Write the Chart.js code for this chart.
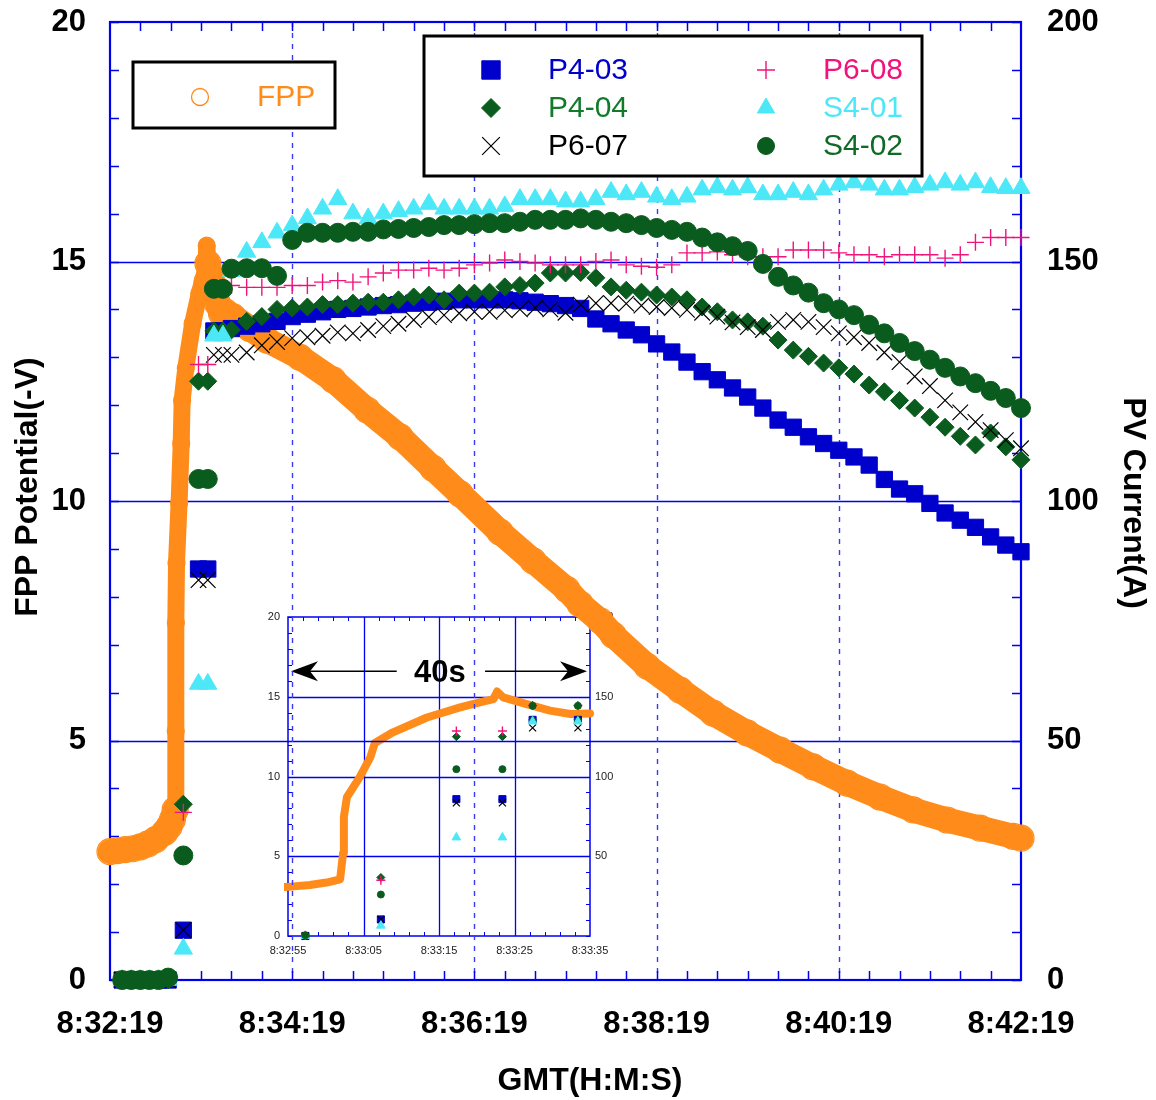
<!DOCTYPE html>
<html lang="en">
<head>
<meta charset="UTF-8">
<title>FPP Potential and PV Current</title>
<script src="https://cdn.jsdelivr.net/npm/chart.js@4.4.1/dist/chart.umd.min.js"></script>
<style>
  html, body { margin: 0; padding: 0; background: #fff; }
  #wrap { position: relative; width: 1156px; height: 1100px; }
  #mainChart { position: absolute; left: 0; top: 0; z-index: 2; }
  #insetChart { position: absolute; left: 230px; top: 590px; z-index: 1; }
</style>
</head>
<body>
<div id="wrap">
  <canvas id="insetChart" width="400" height="380"></canvas>
  <canvas id="mainChart" width="1156" height="1100"></canvas>
</div>
<script>
// time axis: seconds after 8:32:19 GMT
const mainXTicks = [0, 120, 240, 360, 480, 600];
const mainXLabels = ["8:32:19", "8:34:19", "8:36:19", "8:38:19", "8:40:19", "8:42:19"];
const insetXTicks = [36, 46, 56, 66, 76];
const insetXLabels = ["8:32:55", "8:33:05", "8:33:15", "8:33:25", "8:33:35"];
const voltTicks = [0, 5, 10, 15, 20];
const ampTicks = [0, 50, 100, 150, 200];

// floating probe potential (-V)
const fppTime = [0, 5, 10, 15, 20, 25, 30, 36, 38.9, 41.1, 42.9, 43.3, 43.4, 43.8, 45.5, 46.9, 47.5, 49.9,
  54.4, 58.8, 61, 63.2, 63.7, 64.5, 67.6, 70.7, 73.4, 76, 81, 92.2, 103.4, 125.2, 146.9, 169.3, 191,
  212.8, 230.6, 256.9, 278.7, 301, 309.6, 322.8, 331.4, 353.8, 375.5, 397.2, 419.6, 441.4, 463.1,
  485.5, 507.2, 529, 551.4, 573.1, 594.9, 600];
const fppVolt = [2.68, 2.7, 2.72, 2.74, 2.78, 2.84, 2.93, 3.08, 3.2, 3.35, 3.55, 5.2, 7.46, 8.7, 9.96, 11.2, 12.1, 12.77,
  13.7, 14.33, 14.6, 14.85, 15.33, 14.96, 14.54, 14.13, 13.92, 13.95, 13.85, 13.6, 13.36, 13.0, 12.53, 11.9, 11.34,
  10.68, 10.15, 9.35, 8.75, 8.15, 7.85, 7.5, 7.2, 6.55, 6.05, 5.57, 5.16, 4.8, 4.45,
  4.11, 3.82, 3.55, 3.34, 3.17, 3.0, 2.96];

// PV currents (A)
const pvTime = [8, 14, 20, 26, 32, 38.3, 48.3, 58.3, 64.4, 68.4, 74.4,
  80, 90, 100, 110, 120, 130, 140, 150, 160, 170, 180, 190, 200, 210, 220, 230, 240, 250, 260,
  270, 280, 290, 300, 310, 320, 330, 340, 350, 360, 370, 380, 390, 400, 410, 420, 430, 440, 450,
  460, 470, 480, 490, 500, 510, 520, 530, 540, 550, 560, 570, 580, 590, 600];
const p4_03 = [0, 0, 0, 0, 0, 0, 10.4, 85.8, 85.8, 135.5, 135.5,
  136, 136.5, 137, 137.5, 138.5, 139, 139.5, 140, 140.2, 140.5, 140.8, 141, 141.3, 141.5, 141.7, 142, 142, 142, 142,
  141.8, 141.5, 141.2, 140.8, 140.2, 138, 137, 135.7, 134.7, 132.8, 131.1, 129, 127, 125.3, 123.6, 121.7, 119.4, 116.9, 115.4,
  113.4, 112, 110.6, 109.2, 107.5, 104.5, 102.5, 101.5, 99.5, 97.5, 96, 94.5, 92.5, 90.8, 89.4];
const p4_04 = [0, 0, 0, 0, 0, 0, 36.7, 125, 125, 135.5, 135.5,
  135.7, 137.5, 138.5, 140, 140.3, 140.5, 141, 141, 141.3, 141.5, 141.5, 142, 142.6, 143, 142, 143.4, 143.4, 143.6, 144.7,
  145, 145.5, 147.6, 147.6, 147.7, 146.6, 144.7, 144, 143.6, 143, 142.6, 142, 140.5, 139.5, 137.8, 137.4, 136.5, 133.6, 131.5,
  130.2, 128.8, 127.8, 126.5, 124.2, 122.8, 121, 119.4, 117.5, 115.4, 113.5, 111.7, 114.2, 111.3, 108.6];
const p6_07 = [0, 0, 0, 0, 0, 0, 10.4, 83.5, 83.5, 130.5, 130.5,
  130.5, 131, 132.5, 133.2, 134, 134.2, 134.5, 135.2, 135, 135.7, 136.5, 137, 137.8, 138.4, 138.8, 139.2, 139.5, 139.5, 139.8,
  140, 140.3, 140, 139.3, 141, 141.3, 141.3, 141.2, 140.8, 140.5, 140.3, 139.9, 139.3, 138.5, 137.3, 136.3, 135.7, 137.4, 137.8,
  137.4, 136.3, 135, 134.2, 133, 131, 129, 126, 124, 121, 118.5, 116.5, 114.8, 112.7, 111];
const p6_08 = [0, 0, 0, 0, 0, 0.5, 35, 128.5, 128.5, 144.5, 144.5,
  145, 144.6, 144.6, 144.6, 145, 145, 145.7, 146, 145.7, 146.8, 147.6, 148.2, 148.2, 148.6, 148.2, 148.6, 149.3, 149.7, 150.3,
  150, 149.7, 149.3, 149.3, 149.3, 150, 150.3, 149.3, 149, 148.8, 149.3, 151.8, 151.8, 152, 151.4, 151, 151, 151, 152.4,
  152.4, 152.4, 151.8, 151.4, 151.4, 151, 151.4, 151.4, 151.4, 150.7, 151.4, 154, 155, 155, 155];
const s4_01 = [0, 0, 0, 0, 0, 0, 6.5, 61.8, 61.8, 134.5, 134.5,
  148, 152, 154, 156, 157.5, 159, 161, 163, 160, 159, 160, 160.5, 161, 162, 161, 161, 161, 161, 161.5,
  163, 163, 163, 162.5, 162.5, 163, 164.5, 164, 164.5, 163.5, 163, 163.5, 165, 165.5, 165, 165.5, 164, 164, 164.5,
  164, 165, 166, 166.5, 166, 165, 165, 165.5, 166, 166.5, 166, 166.5, 165.5, 165.3, 165.3];
const s4_02 = [0, 0, 0, 0, 0, 0.5, 26, 104.6, 104.6, 144.3, 144.3,
  148.5, 148.6, 148.6, 147, 154.5, 156, 156, 156, 156.2, 156.2, 156.7, 156.8, 157, 157.2, 157.6, 157.6, 157.8, 158, 158,
  158.3, 158.7, 158.7, 158.7, 159, 158.7, 158.3, 158, 157.6, 157, 156.6, 156.2, 155, 154, 153.2, 152.2, 149.5, 146.8, 145,
  143.5, 141.3, 140, 138.8, 136.8, 135, 133, 131.3, 129.5, 127.8, 126, 124.6, 123, 121.5, 119.4];

const BLUE = "#0000f0";
const ORANGE = "#ff8c1a";
const FONT = "'Liberation Sans', Arial, Helvetica, sans-serif";

// style per series: colour, text colour, marker, main radius, inset radius, legend radius, line width
const series = [
  { label: "S4-02", data: s4_02, color: "#0a5c1e", text: "#0e6a24", style: "circle", r: 9.5, ri: 3.5, rl: 8.5, bw: 1 },
  { label: "S4-01", data: s4_01, color: "#4de8f8", text: "#4de8f8", style: "triangle", r: 10.5, ri: 5, rl: 10, bw: 1 },
  { label: "P6-08", data: p6_08, color: "#f0137c", text: "#f0137c", style: "cross", r: 8.5, ri: 4.5, rl: 9, bw: 1.4 },
  { label: "P6-07", data: p6_07, color: "#000000", text: "#000000", style: "crossRot", r: 11, ri: 5, rl: 12.5, bw: 1.2 },
  { label: "P4-04", data: p4_04, color: "#0a5c1e", text: "#137a2c", style: "rectRot", r: 9, ri: 4, rl: 9.5, bw: 1 },
  { label: "P4-03", data: p4_03, color: "#0000cc", text: "#0000cc", style: "rect", r: 11.5, ri: 5, rl: 13, bw: 1 }
];

function pvSets(inset) {
  return series.map(s => ({
    label: s.label,
    data: pvTime.map((t, i) => ({ x: t, y: s.data[i] })),
    yAxisID: "y1",
    showLine: false,
    pointStyle: s.style,
    pointRadius: inset ? s.ri : s.r,
    pointBorderWidth: s.bw,
    backgroundColor: s.color,
    borderColor: s.color,
    clip: inset ? { left: 0, top: 6, right: 8, bottom: 8 } : false
  }));
}

const inRise = t => t > 42.9 && t < 64.5;

function fppSet(inset) {
  return {
    label: "FPP",
    data: fppTime.map((t, i) => ({ x: t, y: fppVolt[i] })),
    yAxisID: "y",
    showLine: true,
    tension: 0,
    borderColor: ORANGE,
    borderWidth: inset ? 8 : 25,
    // the fast rise is a narrower stack of rings than the slow parts
    segment: inset ? {} : {
      borderWidth: c => (c.p0.parsed.x >= 42.9 && c.p1.parsed.x <= 64.5 ? 17 : 25)
    },
    borderCapStyle: "round",
    borderJoinStyle: "round",
    pointStyle: "circle",
    pointRadius: inset ? 0 : c => (inRise(c.parsed ? c.parsed.x : 0) ? 8.5 : 13),
    pointBorderWidth: 1.2,
    pointBorderColor: ORANGE,
    pointBackgroundColor: "rgba(255,255,255,0)",
    clip: inset ? { left: 4, top: 10, right: 6, bottom: 5 } : false
  };
}

function marker(ctx, s, r, x, y) {
  ctx.fillStyle = s.color;
  ctx.strokeStyle = s.color;
  ctx.lineWidth = s.bw;
  Chart.helpers.drawPoint(ctx, { pointStyle: s.style, radius: r, rotation: 0, borderWidth: s.bw }, x, y);
}

function minorTicks(ctx, a, sx, sy, sy1, xFrom, xTo, xStep, yStep, ampStep, len) {
  ctx.beginPath();
  for (let v = xFrom; v <= xTo + 0.001; v += xStep) {
    const px = Math.round(sx.getPixelForValue(v)) + 0.5;
    ctx.moveTo(px, a.top); ctx.lineTo(px, a.top + len);
    ctx.moveTo(px, a.bottom); ctx.lineTo(px, a.bottom - len);
  }
  for (let v = 0; v <= 20; v += yStep) {
    const py = Math.round(sy.getPixelForValue(v)) + 0.5;
    ctx.moveTo(a.left, py); ctx.lineTo(a.left + len, py);
  }
  for (let v = 0; v <= 200; v += ampStep) {
    const py = Math.round(sy1.getPixelForValue(v)) + 0.5;
    ctx.moveTo(a.right, py); ctx.lineTo(a.right - len, py);
  }
  ctx.stroke();
}

const mainDecor = {
  id: "mainDecor",
  beforeDatasetsDraw(chart) {
    const { ctx, chartArea: a, scales: { x, y, y1 } } = chart;
    ctx.save();
    ctx.strokeStyle = BLUE;
    ctx.lineWidth = 1.6;
    ctx.beginPath();
    [5, 10, 15].forEach(v => {
      const py = Math.round(y.getPixelForValue(v)) + 0.5;
      ctx.moveTo(a.left, py); ctx.lineTo(a.right, py);
    });
    ctx.stroke();
    ctx.setLineDash([5, 6]);
    ctx.lineWidth = 1.4;
    ctx.strokeStyle = "#3a3af5";
    ctx.beginPath();
    [120, 240, 360, 480].forEach(v => {
      const px = Math.round(x.getPixelForValue(v)) + 0.5;
      ctx.moveTo(px, a.top); ctx.lineTo(px, a.bottom);
    });
    ctx.stroke();
    ctx.setLineDash([]);
    ctx.strokeStyle = BLUE;
    ctx.lineWidth = 1.5;
    minorTicks(ctx, a, x, y, y1, 20, 580, 20, 1, 10, 9);
    ctx.lineWidth = 2.2;
    ctx.strokeRect(a.left, a.top, a.right - a.left, a.bottom - a.top);
    ctx.restore();
  },
  afterDatasetsDraw(chart) {
    const ctx = chart.ctx;
    ctx.save();
    // FPP legend box
    ctx.fillStyle = "#fff";
    ctx.fillRect(133, 62, 202, 66);
    ctx.strokeStyle = "#000";
    ctx.lineWidth = 3;
    ctx.strokeRect(133, 62, 202, 66);
    ctx.beginPath();
    ctx.arc(200, 97, 8.5, 0, Math.PI * 2);
    ctx.strokeStyle = ORANGE;
    ctx.lineWidth = 1.3;
    ctx.stroke();
    ctx.font = "30px " + FONT;
    ctx.textBaseline = "middle";
    ctx.textAlign = "left";
    ctx.fillStyle = ORANGE;
    ctx.fillText("FPP", 257, 98);
    // PV legend box
    ctx.fillStyle = "#fff";
    ctx.fillRect(424, 36, 498, 140);
    ctx.strokeStyle = "#000";
    ctx.lineWidth = 3;
    ctx.strokeRect(424, 36, 498, 140);
    const layout = [
      ["P4-03", 491, 70], ["P4-04", 491, 108], ["P6-07", 491, 146],
      ["P6-08", 766, 70], ["S4-01", 766, 108], ["S4-02", 766, 146]
    ];
    layout.forEach(([name, mx, my]) => {
      const s = series.find(d => d.label === name);
      marker(ctx, s, s.rl, mx, my);
      ctx.fillStyle = s.text;
      ctx.font = "30px " + FONT;
      ctx.fillText(name, mx + 57, my + 1);
    });
    ctx.restore();
  },
  afterDraw(chart) {
    const ctx = chart.ctx;
    ctx.save();
    ctx.fillStyle = "#000";
    ctx.font = "bold 32px " + FONT;
    ctx.textAlign = "center";
    ctx.textBaseline = "middle";
    ctx.fillText("GMT(H:M:S)", 590, 1081);
    ctx.translate(28, 487);
    ctx.rotate(-Math.PI / 2);
    ctx.fillText("FPP Potential(-V)", 0, 0);
    ctx.restore();
    ctx.save();
    ctx.fillStyle = "#000";
    ctx.font = "bold 32px " + FONT;
    ctx.textAlign = "center";
    ctx.textBaseline = "middle";
    ctx.translate(1133, 503);
    ctx.rotate(Math.PI / 2);
    ctx.fillText("PV Current(A)", 0, 0);
    ctx.restore();
  }
};

const insetDecor = {
  id: "insetDecor",
  beforeDatasetsDraw(chart) {
    const { ctx, chartArea: a, scales: { x, y, y1 } } = chart;
    ctx.save();
    ctx.strokeStyle = BLUE;
    ctx.lineWidth = 1.3;
    ctx.beginPath();
    [5, 10, 15].forEach(v => {
      const py = Math.round(y.getPixelForValue(v)) + 0.5;
      ctx.moveTo(a.left, py); ctx.lineTo(a.right, py);
    });
    [46, 56, 66].forEach(v => {
      const px = Math.round(x.getPixelForValue(v)) + 0.5;
      ctx.moveTo(px, a.top); ctx.lineTo(px, a.bottom);
    });
    ctx.stroke();
    ctx.lineWidth = 1;
    minorTicks(ctx, a, x, y, y1, 38, 74, 2, 1, 10, 4);
    ctx.lineWidth = 1.5;
    ctx.strokeRect(a.left, a.top, a.right - a.left, a.bottom - a.top);
    // 40 s span annotation
    const ay = y.getPixelForValue(16.6);
    const lx = x.getPixelForValue(36) + 3;
    const rx = x.getPixelForValue(76) - 3;
    ctx.strokeStyle = "#000";
    ctx.fillStyle = "#000";
    ctx.lineWidth = 1.5;
    ctx.beginPath();
    ctx.moveTo(lx + 18, ay); ctx.lineTo(x.getPixelForValue(50.4), ay);
    ctx.moveTo(x.getPixelForValue(62.1), ay); ctx.lineTo(rx - 18, ay);
    ctx.stroke();
    ctx.beginPath();
    ctx.moveTo(lx, ay); ctx.lineTo(lx + 27, ay - 10); ctx.lineTo(lx + 19, ay); ctx.lineTo(lx + 27, ay + 10); ctx.closePath();
    ctx.moveTo(rx, ay); ctx.lineTo(rx - 27, ay - 10); ctx.lineTo(rx - 19, ay); ctx.lineTo(rx - 27, ay + 10); ctx.closePath();
    ctx.fill();
    ctx.font = "bold 31px " + FONT;
    ctx.textAlign = "center";
    ctx.textBaseline = "middle";
    ctx.fillText("40s", x.getPixelForValue(56.1), y.getPixelForValue(16.45));
    ctx.restore();
  }
};

function ticksFrom(list) {
  return scale => { scale.ticks = list.map(v => ({ value: v })); };
}
// fixed axis box sizes, no extra room for overhanging labels
function fitX(h) {
  return s => { s.height = h; s.paddingLeft = 0; s.paddingRight = 0; };
}
function fitY(w) {
  return s => { s.width = w; s.paddingTop = 0; s.paddingBottom = 0; };
}

const bigTick = { family: FONT, size: 31, weight: "bold" };
const smallTick = { family: FONT, size: 11 };

new Chart(document.getElementById("insetChart"), {
  type: "scatter",
  data: { datasets: [...pvSets(true), fppSet(true)] },
  plugins: [insetDecor],
  options: {
    responsive: false, animation: false, devicePixelRatio: 1, events: [],
    layout: { padding: { top: 27, left: 0, right: 0, bottom: 0 } },
    plugins: { legend: { display: false }, tooltip: { enabled: false } },
    scales: {
      x: {
        type: "linear", min: 36, max: 76,
        afterBuildTicks: ticksFrom(insetXTicks),
        afterFit: fitX(34),
        ticks: { callback: (v, i) => insetXLabels[i], font: smallTick, color: "#222", padding: 8, maxRotation: 0, autoSkip: false },
        grid: { display: false, drawTicks: false }, border: { display: false }
      },
      y: {
        min: 0, max: 20,
        afterBuildTicks: ticksFrom(voltTicks),
        afterFit: fitY(58),
        ticks: { font: smallTick, color: "#222", padding: 8 },
        grid: { display: false, drawTicks: false }, border: { display: false }
      },
      y1: {
        position: "right", min: 0, max: 200,
        afterBuildTicks: ticksFrom(ampTicks),
        afterFit: fitY(40),
        ticks: { callback: v => (v === 0 ? "" : v), font: smallTick, color: "#222", padding: 5 },
        grid: { display: false, drawTicks: false }, border: { display: false }
      }
    }
  }
});

new Chart(document.getElementById("mainChart"), {
  type: "scatter",
  data: { datasets: [...pvSets(false), fppSet(false)] },
  plugins: [mainDecor],
  options: {
    responsive: false, animation: false, devicePixelRatio: 1, events: [],
    layout: { padding: { top: 22, left: 0, right: 0, bottom: 0 } },
    plugins: { legend: { display: false }, tooltip: { enabled: false } },
    scales: {
      x: {
        type: "linear", min: 0, max: 600,
        afterBuildTicks: ticksFrom(mainXTicks),
        afterFit: fitX(120),
        ticks: { callback: (v, i) => mainXLabels[i], font: bigTick, color: "#000", padding: 26, maxRotation: 0, autoSkip: false },
        grid: { display: false, drawTicks: false }, border: { display: false }
      },
      y: {
        min: 0, max: 20,
        afterBuildTicks: ticksFrom(voltTicks),
        afterFit: fitY(110),
        ticks: { font: bigTick, color: "#000", padding: 24 },
        grid: { display: false, drawTicks: false }, border: { display: false }
      },
      y1: {
        position: "right", min: 0, max: 200,
        afterBuildTicks: ticksFrom(ampTicks),
        afterFit: fitY(135),
        ticks: { font: bigTick, color: "#000", padding: 26 },
        grid: { display: false, drawTicks: false }, border: { display: false }
      }
    }
  }
});
</script>
</body>
</html>
